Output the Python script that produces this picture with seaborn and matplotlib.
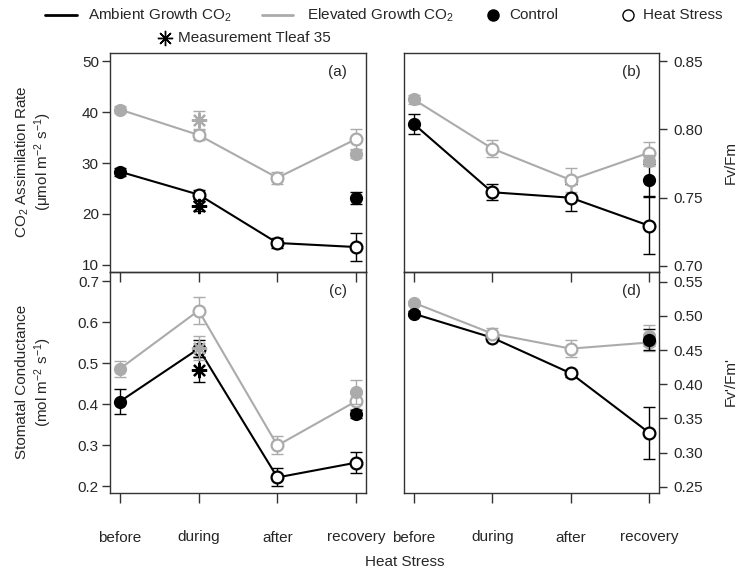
import numpy as np
import pandas as pd
import matplotlib
matplotlib.use('Agg')
import matplotlib.pyplot as plt
from matplotlib.lines import Line2D
import seaborn as sns

sns.set_style('ticks')
plt.rcParams['font.family'] = ['Liberation Sans', 'DejaVu Sans']
plt.rcParams['mathtext.default'] = 'regular'
plt.rcParams['font.size'] = 11

# ------------------------------------------------------------
# data
# ------------------------------------------------------------
stages = ['before', 'during', 'after', 'recovery']

# (a) CO2 assimilation rate
a_amb = [28.3, 23.8, 14.3, 13.5]
a_amb_err = [0.8, 0.9, 1.0, 2.7]
a_elev = [40.5, 35.5, 27.1, 34.7]
a_elev_err = [0.7, 1.0, 1.2, 2.0]
a_ctrl = [23.1, 31.7]          # recovery controls: ambient, elevated
a_ctrl_err = [1.2, 0.8]
a_tleaf = [21.6, 38.5]         # during, Tleaf 35: ambient, elevated
a_tleaf_err = [1.0, 1.8]

# (b) Fv/Fm
b_amb = [0.804, 0.754, 0.750, 0.7295]
b_amb_err = [0.007, 0.006, 0.010, 0.021]
b_elev = [0.822, 0.786, 0.763, 0.783]
b_elev_err = [0.003, 0.006, 0.009, 0.008]
b_ctrl = [0.763, 0.777]
b_ctrl_err = [0.012, 0.004]

# (c) stomatal conductance
c_amb = [0.406, 0.535, 0.221, 0.257]
c_amb_err = [0.030, 0.020, 0.022, 0.025]
c_elev = [0.486, 0.628, 0.299, 0.407]
c_elev_err = [0.020, 0.034, 0.022, 0.020]
c_ctrl = [0.376, 0.429]
c_ctrl_err = [0.010, 0.030]
c_tleaf = [0.484, 0.537]
c_tleaf_err = [0.030, 0.030]

# (d) Fv'/Fm'
d_amb = [0.503, 0.468, 0.416, 0.329]
d_amb_err = [0.004, 0.005, 0.005, 0.038]
d_elev = [0.519, 0.474, 0.452, 0.461]
d_elev_err = [0.003, 0.008, 0.012, 0.012]
d_ctrl = [0.465, 0.471]
d_ctrl_err = [0.015, 0.015]

BLACK = '#000000'
GRAY = '#ABABAB'
ASTER = (8, 2, 0)
W, H = 750, 574


def fx(px):
    return px / W


def fy(py):
    return 1 - py / H


def draw_panel(ax, amb, amb_err, elev, elev_err, ctrl, ctrl_err,
               tleaf=None, tleaf_err=None):
    x = np.arange(len(stages))
    series = [(amb, amb_err, BLACK), (elev, elev_err, GRAY)]
    for vals, errs, col in series:
        df = pd.DataFrame({'x': x, 'y': vals})
        ax.errorbar(x, vals, yerr=errs, fmt='none', ecolor=col,
                    elinewidth=1, capsize=4, capthick=1, zorder=2)
        sns.lineplot(data=df, x='x', y='y', ax=ax, color=col,
                     lw=1.5, zorder=3)
        ax.plot(x[1:], vals[1:], 'o', ms=8.5, mfc='white', mec=col,
                mew=1.6, zorder=4, ls='none')
    for vals, errs, col in series[::-1]:
        ax.plot(x[:1], vals[:1], 'o', ms=8.5, mfc=col, mec=col,
                zorder=5, ls='none')
    # controls at recovery
    for v, e, col in [(ctrl[1], ctrl_err[1], GRAY), (ctrl[0], ctrl_err[0], BLACK)]:
        ax.errorbar([x[3]], [v], yerr=[e], fmt='none', ecolor=col,
                    elinewidth=1, capsize=4, capthick=1, zorder=5)
        ax.plot([x[3]], [v], 'o', ms=8.5, mfc=col, mec=col, zorder=6)
    if tleaf is not None:
        for v, e, col in [(tleaf[0], tleaf_err[0], BLACK), (tleaf[1], tleaf_err[1], GRAY)]:
            ax.errorbar([x[1]], [v], yerr=[e], fmt='none', ecolor=col,
                        elinewidth=1, capsize=4, capthick=1, zorder=6)
            ax.plot([x[1]], [v], marker=ASTER, ms=11, mec=col, mew=1.6,
                    ls='none', zorder=7)
    ax.set_xlim(-0.125, 3.125)
    ax.set_xticks(x)
    ax.set_xlabel('')
    ax.set_ylabel('')
    for s in ax.spines.values():
        s.set_visible(True)
        s.set_linewidth(1.0)
        s.set_color('#333333')
    ax.patch.set_alpha(0)


fig = plt.figure(figsize=(7.5, 5.74), dpi=100)

# axes rectangles from pixel boxes
def add_ax(l, r, t, b):
    return fig.add_axes([fx(l), fy(b), (r - l) / W, (b - t) / H])

ax_a = add_ax(110, 366, 53, 272)
ax_b = add_ax(404, 659, 53, 272)
ax_c = add_ax(110, 366, 272, 493)
ax_d = add_ax(404, 659, 272, 493)

draw_panel(ax_a, a_amb, a_amb_err, a_elev, a_elev_err, a_ctrl, a_ctrl_err,
           a_tleaf, a_tleaf_err)
draw_panel(ax_b, b_amb, b_amb_err, b_elev, b_elev_err, b_ctrl, b_ctrl_err)
draw_panel(ax_c, c_amb, c_amb_err, c_elev, c_elev_err, c_ctrl, c_ctrl_err,
           c_tleaf, c_tleaf_err)
draw_panel(ax_d, d_amb, d_amb_err, d_elev, d_elev_err, d_ctrl, d_ctrl_err)

ax_a.set_ylim(8.6, 51.6)
ax_a.set_yticks([10, 20, 30, 40, 50])
ax_b.set_ylim(0.6956, 0.856)
ax_b.set_yticks([0.70, 0.75, 0.80, 0.85])
ax_b.set_yticklabels(['0.70', '0.75', '0.80', '0.85'])
ax_c.set_ylim(0.183, 0.722)
ax_c.set_yticks([0.2, 0.3, 0.4, 0.5, 0.6, 0.7])
ax_d.set_ylim(0.241, 0.564)
ax_d.set_yticks([0.25, 0.30, 0.35, 0.40, 0.45, 0.50, 0.55])
ax_d.set_yticklabels(['0.25', '0.30', '0.35', '0.40', '0.45', '0.50', '0.55'])

for ax in (ax_a, ax_b):
    ax.tick_params(axis='x', labelbottom=False, length=7, width=1, color='#333333')
for ax in (ax_c, ax_d):
    ax.set_xticklabels(stages)
    ax.tick_params(axis='x', length=7, width=1, pad=20, color='#333333')
for ax in (ax_a, ax_c):
    ax.tick_params(axis='y', left=True, right=False, labelleft=True,
                   length=6, width=1, pad=2, color='#333333')
for ax in (ax_b, ax_d):
    ax.yaxis.tick_right()
    ax.tick_params(axis='y', left=False, right=True, labelright=True,
                   labelleft=False, length=6, width=1, pad=4, color='#333333')

# panel letters
for ax, lab in [(ax_a, '(a)'), (ax_b, '(b)'), (ax_c, '(c)'), (ax_d, '(d)')]:
    ax.text(0.89, 0.915, lab, transform=ax.transAxes, ha='center', va='center')

# axis titles
fig.text(fx(22), fy(162), 'CO$_2$ Assimilation Rate', rotation=90,
         ha='center', va='center')
fig.text(fx(43), fy(162), '($\\mu$mol m$^{-2}$ s$^{-1}$)', rotation=90,
         ha='center', va='center')
fig.text(fx(22), fy(382), 'Stomatal Conductance', rotation=90,
         ha='center', va='center')
fig.text(fx(43), fy(382), '(mol m$^{-2}$ s$^{-1}$)', rotation=90,
         ha='center', va='center')
fig.text(fx(731), fy(162), 'Fv/Fm', rotation=90, ha='center', va='center')
fig.text(fx(731), fy(382), "Fv'/Fm'", rotation=90, ha='center', va='center')
fig.text(fx(405), fy(562), 'Heat Stress', ha='center', va='center')

# legend, drawn by hand in figure coordinates
row1, row2 = fy(15), fy(38)
fig.add_artist(Line2D([fx(45), fx(77)], [row1, row1], color=BLACK, lw=2))
fig.text(fx(88), row1, 'Ambient Growth CO$_2$', va='center')
fig.add_artist(Line2D([fx(262), fx(293)], [row1, row1], color=GRAY, lw=2))
fig.text(fx(307), row1, 'Elevated Growth CO$_2$', va='center')
fig.add_artist(Line2D([fx(493)], [row1], marker='o', ms=8, mfc=BLACK, mec=BLACK))
fig.text(fx(509), row1, 'Control', va='center')
fig.add_artist(Line2D([fx(628)], [row1], marker='o', ms=8, mfc='white',
                      mec=BLACK, mew=1))
fig.text(fx(643), row1, 'Heat Stress', va='center')
fig.add_artist(Line2D([fx(165)], [row2], marker=ASTER, ms=11, mec=BLACK, mew=1))
fig.text(fx(178), row2, 'Measurement Tleaf 35', va='center')

plt.savefig('out.png', dpi=100)
